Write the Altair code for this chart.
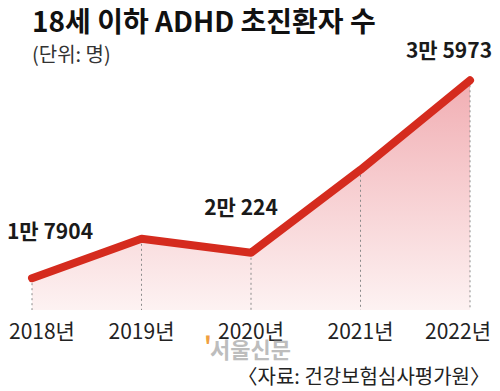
import altair as alt
import pandas as pd

# ---- data ----
years = [2018, 2019, 2020, 2021, 2022]
patients = [17904, 21500, 20224, 27800, 35973]
year_labels = ["2018년", "2019년", "2020년", "2021년", "2022년"]
label_years = [2018, 2020, 2022]
label_texts = ["1만 7904", "2만 224", "3만 5973"]

title_text = "18세 이하 ADHD 초진환자 수"
unit_text = "(단위: 명)"
source_text = "〈자료: 건강보험심사평가원〉"
watermark_text = "서울신문"

df = pd.DataFrame({"year": years, "value": patients, "ylabel": year_labels})
lab_df = pd.DataFrame({
    "year": label_years,
    "value": [patients[years.index(y)] for y in label_years],
    "label": label_texts,
})

FONT = "Noto Sans CJK KR"
W, H = 438, 230
YMIN, YMAX = 15000, 36000

x = alt.X("year:Q", scale=alt.Scale(domain=[2018, 2022], nice=False, zero=False), axis=None)
y = alt.Y("value:Q", scale=alt.Scale(domain=[YMIN, YMAX], nice=False, zero=False), axis=None)

base = alt.Chart(df)

area = base.mark_area(
    color=alt.Gradient(
        gradient="linear",
        stops=[alt.GradientStop(color="#f1aeb3", offset=0),
               alt.GradientStop(color="#fdf2f2", offset=1)],
        x1=0, x2=0, y1=0, y2=1,
    )
).encode(x=x, y=y, y2=alt.datum(YMIN))

rules = base.mark_rule(color="#8a8a8a", strokeDash=[2, 3], strokeWidth=1).encode(
    x=x, y=y, y2=alt.datum(YMIN)
)

line = base.mark_line(color="#d52b1e", strokeWidth=8, strokeCap="round", strokeJoin="round").encode(
    x=x, y=y
)

offsets = {2018: (18, -45), 2020: (-10, -44), 2022: (-21, -28)}
value_layers = []
for yr in label_years:
    dx, dy = offsets[yr]
    value_layers.append(
        alt.Chart(lab_df).transform_filter(f"datum.year == {yr}").mark_text(
            font=FONT, fontSize=21, fontWeight="bold", color="#1a1a1a",
            align="center", baseline="middle", dx=dx, dy=dy,
        ).encode(x=x, y=y, text="label:N")
    )

xlab_first = base.transform_filter("datum.year == 2018").mark_text(
    font=FONT, fontSize=21, color="#222222", align="left", baseline="middle", dx=-23
).encode(x=x, y=alt.value(H + 23), text="ylabel:N")

xlab_main = base.transform_filter("datum.year > 2018 && datum.year < 2022").mark_text(
    font=FONT, fontSize=21, color="#222222", align="center", baseline="middle"
).encode(x=x, y=alt.value(H + 23), text="ylabel:N")

xlab_last = base.transform_filter("datum.year == 2022").mark_text(
    font=FONT, fontSize=21, color="#222222", align="right", baseline="middle", dx=21
).encode(x=x, y=alt.value(H + 23), text="ylabel:N")


def deco(text, xpos, ypos, **kw):
    return alt.Chart(pd.DataFrame({"t": [text]})).mark_text(font=FONT, baseline="middle", **kw).encode(
        x=alt.value(xpos), y=alt.value(ypos), text="t:N"
    )


title = deco(title_text, 0, -56, align="left", fontSize=28, fontWeight="bold", color="#111111")
unit = deco(unit_text, 0, -24, align="left", fontSize=20, color="#333333")
source = deco(source_text, 458, 298, align="right", fontSize=20, color="#222222")
wm = deco(watermark_text, 178, 271, align="left", fontSize=22, fontWeight="bold", color="#bdbdbd")
wm_mark = deco("'", 172, 267, align="left", fontSize=24, fontWeight="bold", color="#f0a040")

chart = alt.layer(
    area, rules, line, *value_layers, xlab_first, xlab_main, xlab_last, title, unit, source, wm, wm_mark
).properties(
    width=W, height=H,
    padding={"left": 24, "top": 72, "right": 22, "bottom": 81},
    autosize=alt.AutoSizeParams(type="none"),
).configure_view(stroke=None)

chart.save("out.html", embed_options={"renderer": "svg", "actions": False})
